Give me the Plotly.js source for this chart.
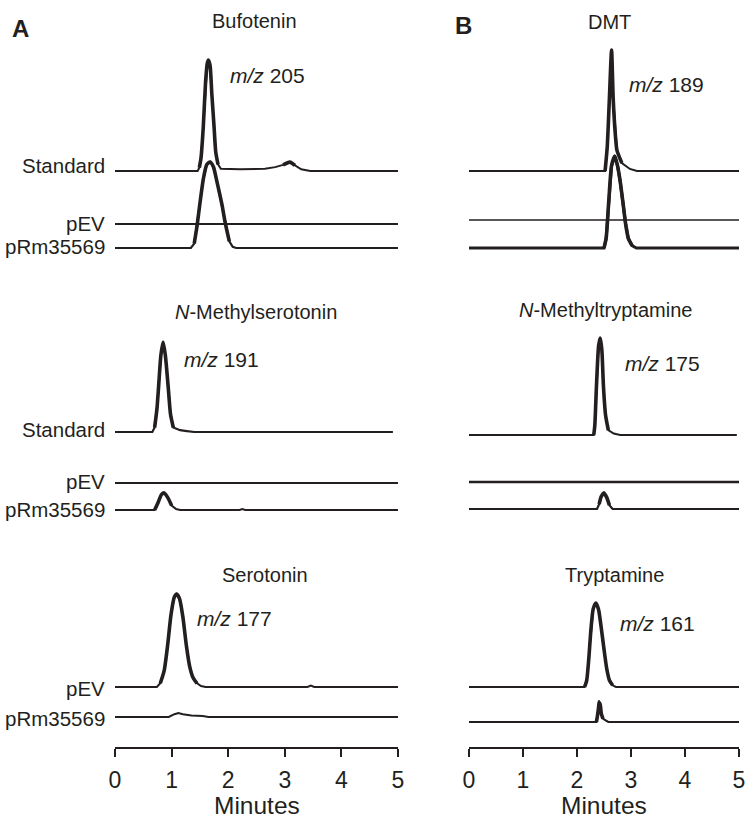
<!DOCTYPE html>
<html>
<head>
<meta charset="utf-8">
<script src="https://cdn.plot.ly/plotly-3.0.1.min.js"></script>
<style>
html,body{margin:0;padding:0;background:#fff;}
#chart{width:748px;height:820px;}
</style>
</head>
<body>
<div id="chart"></div>
<script>
// ---------------- DATA (retention time in minutes, relative intensity) ----------------
// Column A, panel 1: Bufotenin (m/z 205)
const bufStdT = [0, 1.46, 1.49, 1.52, 1.56, 1.60, 1.63, 1.65, 1.68, 1.71, 1.75, 1.78, 1.82, 1.87, 2.21, 2.65, 2.83, 2.97, 3.09, 3.18, 3.29, 3.45, 5];
const bufStdI = [0, 0, 3, 12, 40, 80, 97, 100, 95, 70, 40, 17, 6, 2, 1.5, 2, 3.5, 5.5, 8, 5, 1.5, 0, 0];
const bufPevT = [0, 5];
const bufPevI = [0, 0];
const bufRmT  = [0, 1.34, 1.40, 1.45, 1.50, 1.56, 1.62, 1.68, 1.74, 1.80, 1.89, 1.95, 2.02, 2.08, 2.14, 5];
const bufRmI  = [0, 0, 4, 20, 40, 62, 75, 77.5, 73, 60, 39, 22, 6, 1, 0, 0];

// Column A, panel 2: N-Methylserotonin (m/z 191)
const nmsStdT = [0, 0.66, 0.70, 0.74, 0.77, 0.81, 0.85, 0.89, 0.94, 0.98, 1.03, 1.15, 1.27, 1.40, 4.91];
const nmsStdI = [0, 0, 5, 25, 50, 85, 100, 85, 50, 20, 5, 2, 1, 0, 0];
const nmsPevT = [0, 5];
const nmsPevI = [0, 0];
const nmsRmT  = [0, 0.70, 0.76, 0.82, 0.87, 0.93, 1.00, 1.08, 1.15, 2.20, 2.25, 2.30, 5];
const nmsRmI  = [0, 0, 8, 17, 19, 14, 5, 1, 0, 0, 1, 0, 0];

// Column A, panel 3: Serotonin (m/z 177)
const serPevT = [0, 0.74, 0.80, 0.87, 0.93, 0.99, 1.05, 1.09, 1.14, 1.20, 1.26, 1.32, 1.38, 1.45, 1.52, 1.60, 3.40, 3.46, 3.52, 5];
const serPevI = [0, 0, 4, 18, 45, 78, 97, 100, 95, 75, 45, 22, 10, 4, 1, 0, 0, 1.5, 0, 0];
const serRmT  = [0, 0.95, 1.05, 1.12, 1.20, 1.35, 1.55, 1.65, 5];
const serRmI  = [0, 0, 3, 4.3, 3, 1.5, 1, 0, 0];

// Column B, panel 1: DMT (m/z 189)
const dmtStdT = [0, 2.52, 2.56, 2.60, 2.64, 2.67, 2.71, 2.74, 2.83, 2.98, 3.11, 5];
const dmtStdI = [0, 0, 20, 60, 100, 60, 30, 17, 6.6, 1.7, 0, 0];
const dmtPevT = [0, 5];
const dmtPevI = [0, 0];
const dmtRmT  = [0, 2.50, 2.54, 2.59, 2.64, 2.70, 2.75, 2.80, 2.85, 2.90, 2.95, 3.02, 3.10, 5];
const dmtRmI  = [0, 0, 8, 40, 68, 76, 68, 55, 38, 20, 8, 2, 0, 0];

// Column B, panel 2: N-Methyltryptamine (m/z 175)
const nmtStdT = [0, 2.31, 2.33, 2.36, 2.40, 2.43, 2.46, 2.49, 2.53, 2.58, 2.68, 2.80, 4.96];
const nmtStdI = [0, 0, 10, 50, 92, 100, 88, 50, 20, 5, 1.5, 0, 0];
const nmtPevT = [0, 5];
const nmtPevI = [0, 0];
const nmtRmT  = [0, 2.37, 2.41, 2.45, 2.50, 2.55, 2.60, 2.66, 5];
const nmtRmI  = [0, 0, 5, 13, 16.5, 12, 4, 0, 0];

// Column B, panel 3: Tryptamine (m/z 161)
const trpStdT = [0, 2.14, 2.18, 2.22, 2.26, 2.30, 2.35, 2.40, 2.45, 2.50, 2.55, 2.60, 2.66, 2.72, 5];
const trpStdI = [0, 0, 8, 35, 70, 93, 100, 92, 70, 45, 22, 8, 2, 0, 0];
const trpRmT  = [0, 2.36, 2.38, 2.40, 2.41, 2.42, 2.43, 2.45, 2.48, 2.53, 2.58, 5];
const trpRmI  = [0, 0, 8, 18, 24, 14, 22, 10, 4, 2, 0, 0];

// Text
const panelTitles = ['Bufotenin', '<i>N</i>-Methylserotonin', 'Serotonin', 'DMT', '<i>N</i>-Methyltryptamine', 'Tryptamine'];
const mzLabels = ['<i>m/z</i> 205', '<i>m/z</i> 191', '<i>m/z</i> 177', '<i>m/z</i> 189', '<i>m/z</i> 175', '<i>m/z</i> 161'];
const tickVals = [0, 1, 2, 3, 4, 5];
const axisTitle = 'Minutes';

// ---------------- LAYOUT CONFIG (pixel positions, styles) ----------------
const W = 748, H = 820;
const INK = '#231f20';
const FONT = 'Liberation Sans, Arial, Helvetica, sans-serif';
const colX = [[115, 398], [469, 739]];   // x-axis pixel extents per column
const axisY = 748;                        // pixel y of x-axis line

const panels = [
  {col:0, title:panelTitles[0], tx:255, ty:21, mz:mzLabels[0], mx:228, my:76, peakTop:60,
   series:[{t:bufStdT,i:bufStdI,base:171,w:2,label:'Standard',ly:166},
           {t:bufPevT,i:bufPevI,base:224,w:2,label:'pEV',ly:223.5},
           {t:bufRmT,i:bufRmI,base:248,w:2.2,label:'pRm35569',ly:246.5}]},
  {col:0, title:panelTitles[1], tx:256, ty:312, mz:mzLabels[1], mx:182, my:360, peakTop:342,
   series:[{t:nmsStdT,i:nmsStdI,base:432,w:2.2,label:'Standard',ly:429.5},
           {t:nmsPevT,i:nmsPevI,base:483,w:2,label:'pEV',ly:481},
           {t:nmsRmT,i:nmsRmI,base:510,w:2,label:'pRm35569',ly:509.5}]},
  {col:0, title:panelTitles[2], tx:265, ty:575, mz:mzLabels[2], mx:195, my:618, peakTop:594,
   series:[{t:serPevT,i:serPevI,base:687,w:2,label:'pEV',ly:688},
           {t:serRmT,i:serRmI,base:717,w:2,label:'pRm35569',ly:718}]},
  {col:1, title:panelTitles[3], tx:609, ty:22, mz:mzLabels[3], mx:627, my:85, peakTop:50,
   series:[{t:dmtStdT,i:dmtStdI,base:171,w:2},
           {t:dmtPevT,i:dmtPevI,base:220,w:1.5},
           {t:dmtRmT,i:dmtRmI,base:248,w:3}]},
  {col:1, title:panelTitles[4], tx:605, ty:310, mz:mzLabels[4], mx:623, my:364, peakTop:338,
   series:[{t:nmtStdT,i:nmtStdI,base:435,w:2},
           {t:nmtPevT,i:nmtPevI,base:482,w:2.5},
           {t:nmtRmT,i:nmtRmI,base:509,w:2.2}]},
  {col:1, title:panelTitles[5], tx:614, ty:575, mz:mzLabels[5], mx:618, my:623, peakTop:603,
   series:[{t:trpStdT,i:trpStdI,base:687,w:2},
           {t:trpRmT,i:trpRmI,base:722,w:2.2}]}
];

const px2x = p => p / W;
const px2y = p => 1 - p / H;

const traces = [];
const layout = {
  width: W, height: H,
  margin: {l:0, r:0, t:0, b:0},
  paper_bgcolor: '#fff', plot_bgcolor: 'rgba(0,0,0,0)',
  showlegend: false,
  font: {family: FONT, color: INK},
  annotations: []
};

// x axes (title drawn as annotation, sitting on the bottom edge)
[0, 1].forEach(c => {
  const key = c === 0 ? 'xaxis' : 'xaxis2';
  layout[key] = {
    domain: [px2x(colX[c][0]), px2x(colX[c][1])],
    range: [0, 5],
    anchor: 'free',
    position: px2y(axisY),
    showline: true, linecolor: INK, linewidth: 2,
    ticks: 'outside', ticklen: 8, tickwidth: 2, tickcolor: INK,
    ticklabelstandoff: 3,
    tickvals: tickVals,
    tickfont: {size: 23, family: FONT, color: INK},
    showgrid: false, zeroline: false, fixedrange: true
  };
  layout.annotations.push({
    text: axisTitle, xref: 'paper', yref: 'paper',
    x: px2x((colX[c][0] + colX[c][1]) / 2), y: 0,
    xanchor: 'center', yanchor: 'bottom', showarrow: false, borderpad: 0,
    font: {size: 24.5, family: FONT, color: INK}
  });
});

const PAD = 12;
panels.forEach((p, k) => {
  const yName = k === 0 ? 'y' : 'y' + (k + 1);
  const yKey = k === 0 ? 'yaxis' : 'yaxis' + (k + 1);
  const xName = p.col === 0 ? 'x' : 'x2';
  const topBase = p.series[0].base;
  const s = (topBase - p.peakTop) / 100; // px per intensity unit
  const bottom = Math.max(...p.series.map(q => q.base));
  layout[yKey] = {
    domain: [px2y(bottom + PAD), px2y(p.peakTop - PAD)],
    range: [-PAD / s, (bottom - p.peakTop + PAD) / s],
    anchor: xName, visible: false, fixedrange: true
  };
  p.series.forEach(q => {
    const off = (bottom - q.base) / s;
    const yv = q.i.map(v => off + v);
    traces.push({
      x: q.t, y: yv, xaxis: xName, yaxis: yName,
      type: 'scatter', mode: 'lines', hoverinfo: 'skip',
      line: {color: INK, width: q.w, shape: 'linear'}
    });
    // thicker, smoothed stroke on peak regions (as in the original drawing)
    const yo = q.i.map((v, j) => {
      const near = v >= 8 || (j > 0 && q.i[j-1] >= 8) || (j < q.i.length - 1 && q.i[j+1] >= 8);
      return near ? off + v : null;
    });
    if (yo.some(v => v !== null)) {
      traces.push({
        x: q.t, y: yo, xaxis: xName, yaxis: yName,
        type: 'scatter', mode: 'lines', hoverinfo: 'skip', connectgaps: false,
        line: {color: INK, width: 3.6, shape: 'spline', smoothing: 0.6}
      });
    }
    if (q.label) {
      layout.annotations.push({
        text: q.label, xref: 'paper', yref: 'paper',
        x: px2x(107), y: px2y(q.ly), xanchor: 'right', yanchor: 'middle',
        showarrow: false, font: {size: 20.5, family: FONT, color: INK}
      });
    }
  });
  layout.annotations.push({
    text: p.title, xref: 'paper', yref: 'paper',
    x: px2x(p.tx), y: px2y(p.ty), xanchor: 'center', yanchor: 'middle',
    showarrow: false, font: {size: 20, family: FONT, color: INK}
  });
  layout.annotations.push({
    text: p.mz, xref: 'paper', yref: 'paper',
    x: px2x(p.mx), y: px2y(p.my), xanchor: 'left', yanchor: 'middle',
    showarrow: false, font: {size: 21, family: FONT, color: INK}
  });
});

// panel letters
[['A', 20, 28], ['B', 463, 25]].forEach(([t, x, y]) => {
  layout.annotations.push({
    text: '<b>' + t + '</b>', xref: 'paper', yref: 'paper',
    x: px2x(x), y: px2y(y), xanchor: 'center', yanchor: 'middle',
    showarrow: false, font: {size: 24, family: FONT, color: INK}
  });
});

Plotly.newPlot('chart', traces, layout, {staticPlot: true, displayModeBar: false});
</script>
</body>
</html>
